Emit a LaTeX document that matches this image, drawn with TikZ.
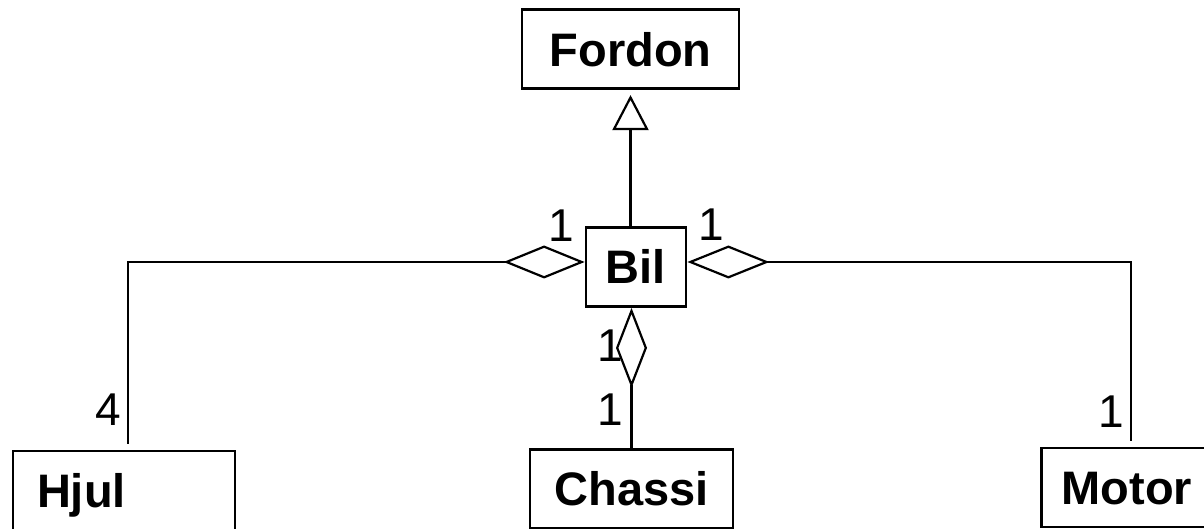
\documentclass[tikz,border=0pt]{standalone}
\usepackage{fontspec}
\setmainfont{Liberation Sans}
\usetikzlibrary{arrows.meta, positioning}

\begin{document}
\begin{tikzpicture}[
    x=1pt, y=1pt,
    line join=miter,
    classbox/.style={draw, line width=2.8pt, inner sep=0pt, minimum height=79pt,
        font=\bfseries\fontsize{47}{50}\selectfont, text height=34pt, text depth=0pt},
    link/.style={line width=2.2pt},
    mult/.style={font=\fontsize{46}{50}\selectfont, inner sep=0pt},
    has/.style={-{Diamond[open, length=#1, width=33pt]}},
    isa/.style={-{Triangle[open, length=35pt, width=36pt]}}
]
\useasboundingbox (0,0) rectangle (1204,529);

% classes
\node[classbox, minimum width=100pt] (bil) at (636,262) {Bil};
\node[classbox, minimum width=217pt, above=136pt of bil, xshift=-5.5pt] (fordon) {Fordon};
\node[classbox, minimum width=203pt, below=140pt of bil, xshift=-4.5pt] (chassi) {Chassi};
\node[classbox, text width=174pt, align=left, inner xsep=24pt] (hjul) at (124,38.5) {Hjul};
\node[classbox, inner xsep=20pt] (motor) at (1127,41.5) {Motor};

\coordinate (bilw) at ([yshift=5pt]bil.west);
\coordinate (bile) at ([yshift=5pt]bil.east);

% inheritance
\draw[link, isa, shorten >=5pt] (fordon.south |- bil.north) -- (fordon.south);

% aggregations
\draw[link, has=81pt] ([xshift=4pt, yshift=6pt]hjul.north) |- (bilw);
\draw[link, has=82pt] ([xshift=4pt, yshift=6pt]motor.north) |- (bile);
\draw[link, -{Diamond[open, length=80pt, width=31pt]}] (chassi.north) -- (chassi.north |- bil.south);

% multiplicities
\node[mult] (m1) at (561,303.5) {1};
\node[mult] (m2) at (711,304.5) {1};
\node[mult] (m3) at (610,183.5) {1};
\node[mult] (m4) at (610,119) {1};
\node[mult] (m5) at (108,119.5) {4};
\node[mult] (m6) at (1111,117) {1};

\end{tikzpicture}
\end{document}
